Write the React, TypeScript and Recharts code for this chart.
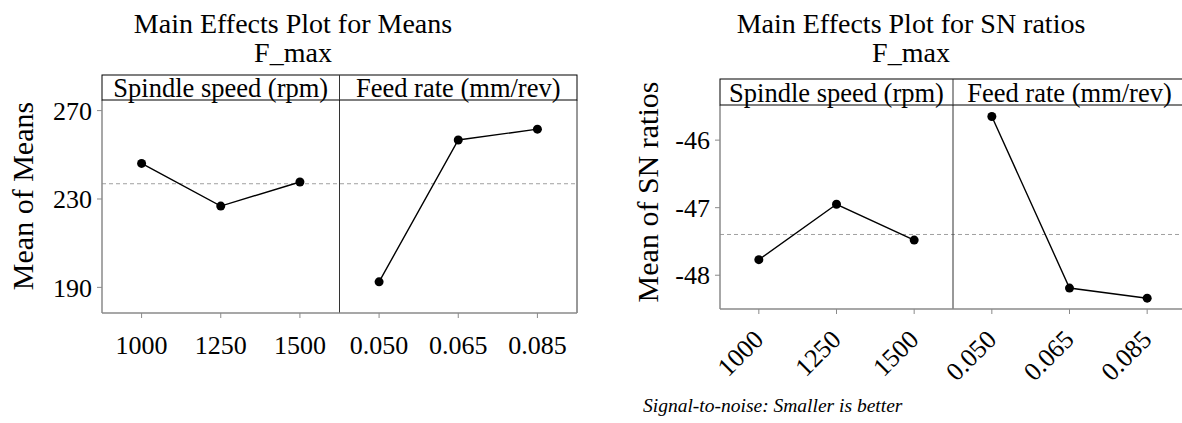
import React from "react";
import { LineChart, Line, XAxis, YAxis, ReferenceLine } from "recharts";

// factor levels and level means
const speedLevels = ["1000", "1250", "1500"];
const feedLevels = ["0.050", "0.065", "0.085"];
const speedMeans = [246.1, 226.8, 237.7];
const feedMeans = [192.5, 256.7, 261.6];
const speedSN = [-47.77, -46.95, -47.48];
const feedSN = [-45.65, -48.19, -48.34];
const meansTicks = [190, 230, 270];
const snTicks = [-48, -47, -46];
const factorNames = ["Spindle speed (rpm)", "Feed rate (mm/rev)"];

const FONT = '"Liberation Serif", "Times New Roman", serif';
const AXIS_GRAY = "#8a8a8a";
const H = 423;

const avg = (a: number[]) => a.reduce((s, v) => s + v, 0) / a.length;

function buildRows(speed: number[], feed: number[]) {
  return [
    ...speedLevels.map((level, i) => ({ level, speed: speed[i], feed: null })),
    ...feedLevels.map((level, i) => ({ level, speed: null, feed: feed[i] })),
  ];
}

type PanelCfg = {
  left: number;
  width: number;
  margin: { top: number; right: number; bottom: number; left: number };
  yAxisWidth: number;
  xAxisHeight: number;
  stripTop: number;
  domain: [number, number];
  ticks: number[];
  rows: any[];
  mean: number;
  title: string[];
  titleX: number;
  yLabel: string;
  yLabelX: number;
  yLabelY: number;
  stripBaseline: number;
  rotated: boolean;
};

const RotatedTick = ({ x, y, payload }: any) => (
  <g transform={`translate(${x + 6},${y + 22})`}>
    <text
      x={0}
      y={0}
      textAnchor="end"
      transform="rotate(-45)"
      fontSize={26}
      fontFamily={FONT}
      fill="#000"
    >
      {payload.value}
    </text>
  </g>
);

const meansPanel: PanelCfg = {
  left: 0,
  width: 600,
  margin: { top: 100, right: 23, bottom: 60, left: 0 },
  yAxisWidth: 102,
  xAxisHeight: 50,
  stripTop: 75,
  domain: [178.4, 274.8],
  ticks: meansTicks,
  rows: buildRows(speedMeans, feedMeans),
  mean: avg([...speedMeans, ...feedMeans]),
  title: ["Main Effects Plot for Means", "F_max"],
  titleX: 293,
  yLabel: "Mean of Means",
  yLabelX: 33,
  yLabelY: 196,
  stripBaseline: 97,
  rotated: false,
};

const snPanel: PanelCfg = {
  left: 600,
  width: 600,
  margin: { top: 105, right: 14, bottom: 34, left: 0 },
  yAxisWidth: 120,
  xAxisHeight: 80,
  stripTop: 79,
  domain: [-48.5, -45.48],
  ticks: snTicks,
  rows: buildRows(speedSN, feedSN),
  mean: avg([...speedSN, ...feedSN]),
  title: ["Main Effects Plot for SN ratios", "F_max"],
  titleX: 911,
  yLabel: "Mean of SN ratios",
  yLabelX: 658,
  yLabelY: 192,
  stripBaseline: 101.5,
  rotated: true,
};

function Panel({ cfg }: { cfg: PanelCfg }) {
  return (
    <div style={{ position: "absolute", left: cfg.left, top: 0 }}>
      <LineChart width={cfg.width} height={H} data={cfg.rows} margin={cfg.margin}>
        <XAxis
          dataKey="level"
          scale="band"
          height={cfg.xAxisHeight}
          interval={0}
          stroke={AXIS_GRAY}
          axisLine={{ stroke: AXIS_GRAY, strokeWidth: 1.5 }}
          tickLine={{ stroke: AXIS_GRAY }}
          tickSize={5}
          tickMargin={cfg.rotated ? 5 : 18}
          tick={
            cfg.rotated
              ? (p: any) => <RotatedTick {...p} />
              : { fontSize: 26, fill: "#000", fontFamily: FONT }
          }
        />
        <YAxis
          width={cfg.yAxisWidth}
          domain={cfg.domain}
          ticks={cfg.ticks}
          allowDataOverflow
          axisLine={{ stroke: AXIS_GRAY, strokeWidth: 1.5 }}
          tickLine={{ stroke: AXIS_GRAY }}
          tickSize={5}
          tickMargin={5}
          tick={{ fontSize: 26, fill: "#000", fontFamily: FONT }}
        />
        <ReferenceLine y={cfg.mean} stroke="#a0a0a0" strokeDasharray="4 3" strokeWidth={1} />
        <ReferenceLine x={feedLevels[0]} position="start" stroke="#333" strokeWidth={1} />
        <ReferenceLine x={feedLevels[2]} position="end" stroke="#333" strokeWidth={1} />
        <Line
          dataKey="speed"
          stroke="#000"
          strokeWidth={1.4}
          dot={{ r: 4.5, fill: "#000", stroke: "#000", strokeWidth: 0 }}
          activeDot={false}
          isAnimationActive={false}
        />
        <Line
          dataKey="feed"
          stroke="#000"
          strokeWidth={1.4}
          dot={{ r: 4.5, fill: "#000", stroke: "#000", strokeWidth: 0 }}
          activeDot={false}
          isAnimationActive={false}
        />
      </LineChart>
    </div>
  );
}

function Decor({ cfg }: { cfg: PanelCfg }) {
  const plotLeft = cfg.left + cfg.margin.left + cfg.yAxisWidth;
  const plotRight = cfg.left + cfg.width - cfg.margin.right;
  const plotTop = cfg.margin.top;
  const mid = (plotLeft + plotRight) / 2;
  return (
    <g fontFamily={FONT} fill="#000">
      {cfg.title.map((t, i) => (
        <text key={t} x={cfg.titleX} y={33 + i * 29} fontSize={28} textAnchor="middle">
          {t}
        </text>
      ))}
      <rect
        x={plotLeft}
        y={cfg.stripTop}
        width={plotRight - plotLeft}
        height={plotTop - cfg.stripTop}
        fill="none"
        stroke="#000"
        strokeWidth={1}
      />
      <line x1={mid} x2={mid} y1={cfg.stripTop} y2={plotTop} stroke="#333" />
      {factorNames.map((f, i) => (
        <text
          key={f}
          x={i === 0 ? (plotLeft + mid) / 2 : (mid + plotRight) / 2}
          y={cfg.stripBaseline}
          fontSize={26.5}
          textAnchor="middle"
        >
          {f}
        </text>
      ))}
      <text
        transform={`translate(${cfg.yLabelX},${cfg.yLabelY}) rotate(-90)`}
        fontSize={30}
        textAnchor="middle"
      >
        {cfg.yLabel}
      </text>
    </g>
  );
}

export default function App() {
  return (
    <div
      style={{
        position: "absolute",
        left: 0,
        top: 0,
        width: 1182,
        height: H,
        overflow: "hidden",
        background: "#fff",
      }}
    >
      <Panel cfg={meansPanel} />
      <Panel cfg={snPanel} />
      <svg
        width={1182}
        height={H}
        style={{ position: "absolute", left: 0, top: 0, pointerEvents: "none" }}
      >
        <Decor cfg={meansPanel} />
        <Decor cfg={snPanel} />
        <text x={643} y={412} fontSize={19.5} fontStyle="italic" fontFamily={FONT} fill="#000">
          Signal-to-noise: Smaller is better
        </text>
      </svg>
    </div>
  );
}
